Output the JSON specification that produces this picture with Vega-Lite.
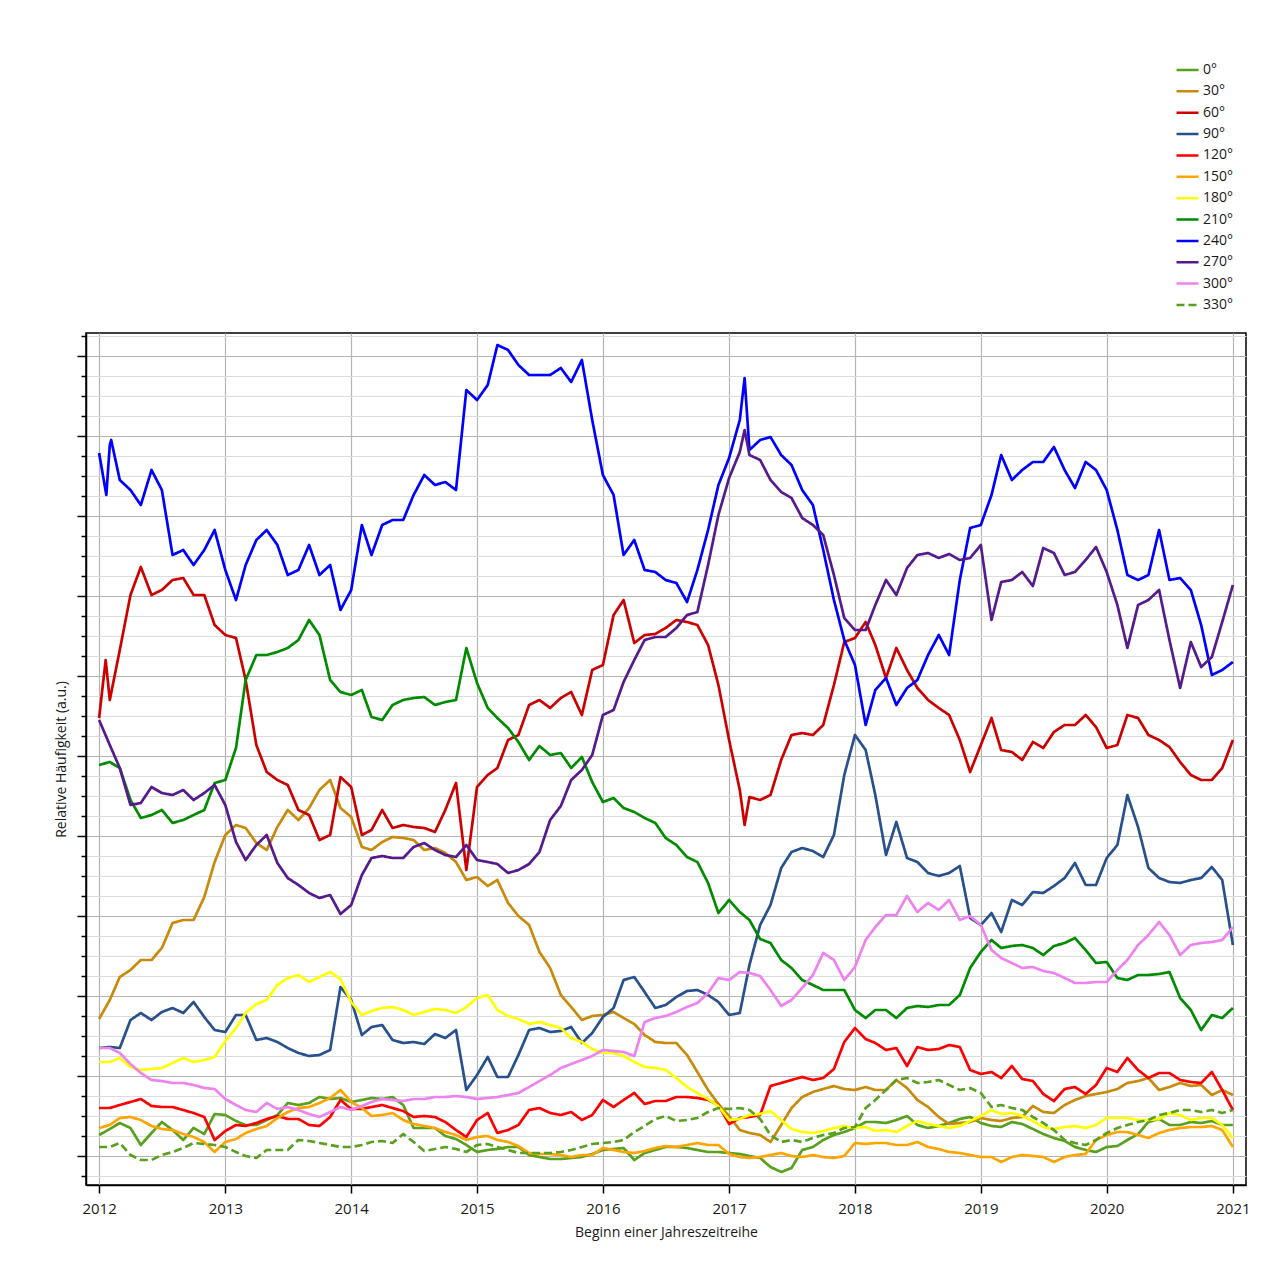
{
"$schema":"https://vega.github.io/schema/vega-lite/v6.json",
"width":1160,"height":852,
"autosize":"none",
"padding":{"left":86,"top":333,"right":39,"bottom":96},
"background":"white",
"config":{"font":"Open Sans","view":{"stroke":"black","strokeWidth":1.5}},
"datasets":{"dirs":[
{"s":"0°","d":"2012-01","v":21},{"s":"0°","d":"2012-02","v":27},{"s":"0°","d":"2012-03","v":33},{"s":"0°","d":"2012-04","v":28},{"s":"0°","d":"2012-05","v":11},{"s":"0°","d":"2012-06","v":23},{"s":"0°","d":"2012-07","v":34},{"s":"0°","d":"2012-08","v":26},{"s":"0°","d":"2012-09","v":16},{"s":"0°","d":"2012-10","v":28},{"s":"0°","d":"2012-11","v":22},{"s":"0°","d":"2012-12","v":42},
{"s":"0°","d":"2013-01","v":41},{"s":"0°","d":"2013-02","v":35},{"s":"0°","d":"2013-03","v":31},{"s":"0°","d":"2013-04","v":31},{"s":"0°","d":"2013-05","v":36},{"s":"0°","d":"2013-06","v":41},{"s":"0°","d":"2013-07","v":53},{"s":"0°","d":"2013-08","v":51},{"s":"0°","d":"2013-09","v":53},{"s":"0°","d":"2013-10","v":59},{"s":"0°","d":"2013-11","v":57},{"s":"0°","d":"2013-12","v":58},
{"s":"0°","d":"2014-01","v":54},{"s":"0°","d":"2014-02","v":56},{"s":"0°","d":"2014-03","v":58},{"s":"0°","d":"2014-04","v":57},{"s":"0°","d":"2014-05","v":59},{"s":"0°","d":"2014-06","v":51},{"s":"0°","d":"2014-07","v":28},{"s":"0°","d":"2014-08","v":28},{"s":"0°","d":"2014-09","v":28},{"s":"0°","d":"2014-10","v":20},{"s":"0°","d":"2014-11","v":17},{"s":"0°","d":"2014-12","v":11},
{"s":"0°","d":"2015-01","v":4},{"s":"0°","d":"2015-02","v":6},{"s":"0°","d":"2015-03","v":7},{"s":"0°","d":"2015-04","v":9},{"s":"0°","d":"2015-05","v":9},{"s":"0°","d":"2015-06","v":1},{"s":"0°","d":"2015-07","v":-1},{"s":"0°","d":"2015-08","v":-3},{"s":"0°","d":"2015-09","v":-3},{"s":"0°","d":"2015-10","v":-2},{"s":"0°","d":"2015-11","v":-1},{"s":"0°","d":"2015-12","v":2},
{"s":"0°","d":"2016-01","v":6},{"s":"0°","d":"2016-02","v":7},{"s":"0°","d":"2016-03","v":8},{"s":"0°","d":"2016-04","v":-4},{"s":"0°","d":"2016-05","v":3},{"s":"0°","d":"2016-06","v":6},{"s":"0°","d":"2016-07","v":9},{"s":"0°","d":"2016-08","v":9},{"s":"0°","d":"2016-09","v":8},{"s":"0°","d":"2016-10","v":6},{"s":"0°","d":"2016-11","v":4},{"s":"0°","d":"2016-12","v":4},
{"s":"0°","d":"2017-01","v":3},{"s":"0°","d":"2017-02","v":2},{"s":"0°","d":"2017-03","v":0},{"s":"0°","d":"2017-04","v":-2},{"s":"0°","d":"2017-05","v":-11},{"s":"0°","d":"2017-06","v":-16},{"s":"0°","d":"2017-07","v":-12},{"s":"0°","d":"2017-08","v":6},{"s":"0°","d":"2017-09","v":9},{"s":"0°","d":"2017-10","v":16},{"s":"0°","d":"2017-11","v":21},{"s":"0°","d":"2017-12","v":24},
{"s":"0°","d":"2018-01","v":28},{"s":"0°","d":"2018-02","v":34},{"s":"0°","d":"2018-03","v":34},{"s":"0°","d":"2018-04","v":33},{"s":"0°","d":"2018-05","v":36},{"s":"0°","d":"2018-06","v":40},{"s":"0°","d":"2018-07","v":31},{"s":"0°","d":"2018-08","v":28},{"s":"0°","d":"2018-09","v":30},{"s":"0°","d":"2018-10","v":33},{"s":"0°","d":"2018-11","v":37},{"s":"0°","d":"2018-12","v":39},
{"s":"0°","d":"2019-01","v":33},{"s":"0°","d":"2019-02","v":30},{"s":"0°","d":"2019-03","v":29},{"s":"0°","d":"2019-04","v":34},{"s":"0°","d":"2019-05","v":32},{"s":"0°","d":"2019-06","v":27},{"s":"0°","d":"2019-07","v":22},{"s":"0°","d":"2019-08","v":18},{"s":"0°","d":"2019-09","v":15},{"s":"0°","d":"2019-10","v":9},{"s":"0°","d":"2019-11","v":6},{"s":"0°","d":"2019-12","v":4},
{"s":"0°","d":"2020-01","v":9},{"s":"0°","d":"2020-02","v":10},{"s":"0°","d":"2020-03","v":16},{"s":"0°","d":"2020-04","v":22},{"s":"0°","d":"2020-05","v":34},{"s":"0°","d":"2020-06","v":37},{"s":"0°","d":"2020-07","v":31},{"s":"0°","d":"2020-08","v":31},{"s":"0°","d":"2020-09","v":34},{"s":"0°","d":"2020-10","v":33},{"s":"0°","d":"2020-11","v":35},{"s":"0°","d":"2020-12","v":31},
{"s":"0°","d":"2021-01","v":31},
{"s":"30°","d":"2012-01","v":137},{"s":"30°","d":"2012-02","v":156},{"s":"30°","d":"2012-03","v":179},{"s":"30°","d":"2012-04","v":186},{"s":"30°","d":"2012-05","v":196},{"s":"30°","d":"2012-06","v":196},{"s":"30°","d":"2012-07","v":208},{"s":"30°","d":"2012-08","v":233},{"s":"30°","d":"2012-09","v":236},{"s":"30°","d":"2012-10","v":236},{"s":"30°","d":"2012-11","v":259},{"s":"30°","d":"2012-12","v":294},
{"s":"30°","d":"2013-01","v":321},{"s":"30°","d":"2013-02","v":331},{"s":"30°","d":"2013-03","v":328},{"s":"30°","d":"2013-04","v":313},{"s":"30°","d":"2013-05","v":306},{"s":"30°","d":"2013-06","v":329},{"s":"30°","d":"2013-07","v":346},{"s":"30°","d":"2013-08","v":336},{"s":"30°","d":"2013-09","v":348},{"s":"30°","d":"2013-10","v":366},{"s":"30°","d":"2013-11","v":376},{"s":"30°","d":"2013-12","v":348},
{"s":"30°","d":"2014-01","v":339},{"s":"30°","d":"2014-02","v":309},{"s":"30°","d":"2014-03","v":306},{"s":"30°","d":"2014-04","v":314},{"s":"30°","d":"2014-05","v":319},{"s":"30°","d":"2014-06","v":318},{"s":"30°","d":"2014-07","v":316},{"s":"30°","d":"2014-08","v":306},{"s":"30°","d":"2014-09","v":308},{"s":"30°","d":"2014-10","v":303},{"s":"30°","d":"2014-11","v":294},{"s":"30°","d":"2014-12","v":276},
{"s":"30°","d":"2015-01","v":279},{"s":"30°","d":"2015-02","v":270},{"s":"30°","d":"2015-03","v":276},{"s":"30°","d":"2015-04","v":253},{"s":"30°","d":"2015-05","v":240},{"s":"30°","d":"2015-06","v":231},{"s":"30°","d":"2015-07","v":204},{"s":"30°","d":"2015-08","v":188},{"s":"30°","d":"2015-09","v":161},{"s":"30°","d":"2015-10","v":149},{"s":"30°","d":"2015-11","v":136},{"s":"30°","d":"2015-12","v":140},
{"s":"30°","d":"2016-01","v":141},{"s":"30°","d":"2016-02","v":144},{"s":"30°","d":"2016-03","v":138},{"s":"30°","d":"2016-04","v":132},{"s":"30°","d":"2016-05","v":121},{"s":"30°","d":"2016-06","v":114},{"s":"30°","d":"2016-07","v":113},{"s":"30°","d":"2016-08","v":113},{"s":"30°","d":"2016-09","v":101},{"s":"30°","d":"2016-10","v":84},{"s":"30°","d":"2016-11","v":66},{"s":"30°","d":"2016-12","v":52},
{"s":"30°","d":"2017-01","v":40},{"s":"30°","d":"2017-02","v":26},{"s":"30°","d":"2017-03","v":23},{"s":"30°","d":"2017-04","v":21},{"s":"30°","d":"2017-05","v":14},{"s":"30°","d":"2017-06","v":31},{"s":"30°","d":"2017-07","v":48},{"s":"30°","d":"2017-08","v":59},{"s":"30°","d":"2017-09","v":64},{"s":"30°","d":"2017-10","v":67},{"s":"30°","d":"2017-11","v":70},{"s":"30°","d":"2017-12","v":67},
{"s":"30°","d":"2018-01","v":66},{"s":"30°","d":"2018-02","v":69},{"s":"30°","d":"2018-03","v":66},{"s":"30°","d":"2018-04","v":66},{"s":"30°","d":"2018-05","v":76},{"s":"30°","d":"2018-06","v":68},{"s":"30°","d":"2018-07","v":56},{"s":"30°","d":"2018-08","v":49},{"s":"30°","d":"2018-09","v":39},{"s":"30°","d":"2018-10","v":32},{"s":"30°","d":"2018-11","v":33},{"s":"30°","d":"2018-12","v":34},
{"s":"30°","d":"2019-01","v":38},{"s":"30°","d":"2019-02","v":36},{"s":"30°","d":"2019-03","v":35},{"s":"30°","d":"2019-04","v":38},{"s":"30°","d":"2019-05","v":39},{"s":"30°","d":"2019-06","v":50},{"s":"30°","d":"2019-07","v":44},{"s":"30°","d":"2019-08","v":43},{"s":"30°","d":"2019-09","v":51},{"s":"30°","d":"2019-10","v":56},{"s":"30°","d":"2019-11","v":60},{"s":"30°","d":"2019-12","v":62},
{"s":"30°","d":"2020-01","v":64},{"s":"30°","d":"2020-02","v":67},{"s":"30°","d":"2020-03","v":73},{"s":"30°","d":"2020-04","v":75},{"s":"30°","d":"2020-05","v":78},{"s":"30°","d":"2020-06","v":66},{"s":"30°","d":"2020-07","v":69},{"s":"30°","d":"2020-08","v":73},{"s":"30°","d":"2020-09","v":70},{"s":"30°","d":"2020-10","v":71},{"s":"30°","d":"2020-11","v":61},{"s":"30°","d":"2020-12","v":66},
{"s":"30°","d":"2021-01","v":61},
{"s":"60°","d":"2012-01","v":438},{"s":"60°","d":"2012-01-20","v":496},{"s":"60°","d":"2012-02","v":456},{"s":"60°","d":"2012-03","v":506},{"s":"60°","d":"2012-04","v":561},{"s":"60°","d":"2012-05","v":589},{"s":"60°","d":"2012-06","v":561},{"s":"60°","d":"2012-07","v":566},{"s":"60°","d":"2012-08","v":576},{"s":"60°","d":"2012-09","v":578},{"s":"60°","d":"2012-10","v":561},{"s":"60°","d":"2012-11","v":561},{"s":"60°","d":"2012-12","v":531},
{"s":"60°","d":"2013-01","v":521},{"s":"60°","d":"2013-02","v":518},{"s":"60°","d":"2013-03","v":476},{"s":"60°","d":"2013-04","v":411},{"s":"60°","d":"2013-05","v":384},{"s":"60°","d":"2013-06","v":376},{"s":"60°","d":"2013-07","v":371},{"s":"60°","d":"2013-08","v":346},{"s":"60°","d":"2013-09","v":341},{"s":"60°","d":"2013-10","v":316},{"s":"60°","d":"2013-11","v":321},{"s":"60°","d":"2013-12","v":379},
{"s":"60°","d":"2014-01","v":369},{"s":"60°","d":"2014-02","v":321},{"s":"60°","d":"2014-03","v":326},{"s":"60°","d":"2014-04","v":346},{"s":"60°","d":"2014-05","v":328},{"s":"60°","d":"2014-06","v":331},{"s":"60°","d":"2014-07","v":329},{"s":"60°","d":"2014-08","v":328},{"s":"60°","d":"2014-09","v":324},{"s":"60°","d":"2014-10","v":346},{"s":"60°","d":"2014-11","v":373},{"s":"60°","d":"2014-12","v":286},
{"s":"60°","d":"2015-01","v":369},{"s":"60°","d":"2015-02","v":381},{"s":"60°","d":"2015-03","v":388},{"s":"60°","d":"2015-04","v":416},{"s":"60°","d":"2015-05","v":421},{"s":"60°","d":"2015-06","v":451},{"s":"60°","d":"2015-07","v":456},{"s":"60°","d":"2015-08","v":448},{"s":"60°","d":"2015-09","v":458},{"s":"60°","d":"2015-10","v":464},{"s":"60°","d":"2015-11","v":441},{"s":"60°","d":"2015-12","v":486},
{"s":"60°","d":"2016-01","v":491},{"s":"60°","d":"2016-02","v":541},{"s":"60°","d":"2016-03","v":556},{"s":"60°","d":"2016-04","v":513},{"s":"60°","d":"2016-05","v":521},{"s":"60°","d":"2016-06","v":522},{"s":"60°","d":"2016-07","v":528},{"s":"60°","d":"2016-08","v":536},{"s":"60°","d":"2016-09","v":534},{"s":"60°","d":"2016-10","v":531},{"s":"60°","d":"2016-11","v":511},{"s":"60°","d":"2016-12","v":471},
{"s":"60°","d":"2017-01","v":416},{"s":"60°","d":"2017-02","v":366},{"s":"60°","d":"2017-02-15","v":331},{"s":"60°","d":"2017-03","v":359},{"s":"60°","d":"2017-04","v":356},{"s":"60°","d":"2017-05","v":361},{"s":"60°","d":"2017-06","v":396},{"s":"60°","d":"2017-07","v":421},{"s":"60°","d":"2017-08","v":423},{"s":"60°","d":"2017-09","v":421},{"s":"60°","d":"2017-10","v":431},{"s":"60°","d":"2017-11","v":471},{"s":"60°","d":"2017-12","v":514},
{"s":"60°","d":"2018-01","v":518},{"s":"60°","d":"2018-02","v":534},{"s":"60°","d":"2018-03","v":511},{"s":"60°","d":"2018-04","v":478},{"s":"60°","d":"2018-05","v":508},{"s":"60°","d":"2018-06","v":486},{"s":"60°","d":"2018-07","v":468},{"s":"60°","d":"2018-08","v":456},{"s":"60°","d":"2018-09","v":448},{"s":"60°","d":"2018-10","v":441},{"s":"60°","d":"2018-11","v":416},{"s":"60°","d":"2018-12","v":384},
{"s":"60°","d":"2019-01","v":411},{"s":"60°","d":"2019-02","v":438},{"s":"60°","d":"2019-03","v":406},{"s":"60°","d":"2019-04","v":404},{"s":"60°","d":"2019-05","v":396},{"s":"60°","d":"2019-06","v":414},{"s":"60°","d":"2019-07","v":408},{"s":"60°","d":"2019-08","v":424},{"s":"60°","d":"2019-09","v":431},{"s":"60°","d":"2019-10","v":431},{"s":"60°","d":"2019-11","v":441},{"s":"60°","d":"2019-12","v":429},
{"s":"60°","d":"2020-01","v":408},{"s":"60°","d":"2020-02","v":411},{"s":"60°","d":"2020-03","v":441},{"s":"60°","d":"2020-04","v":438},{"s":"60°","d":"2020-05","v":421},{"s":"60°","d":"2020-06","v":416},{"s":"60°","d":"2020-07","v":409},{"s":"60°","d":"2020-08","v":394},{"s":"60°","d":"2020-09","v":381},{"s":"60°","d":"2020-10","v":376},{"s":"60°","d":"2020-11","v":376},{"s":"60°","d":"2020-12","v":388},
{"s":"60°","d":"2021-01","v":416},
{"s":"90°","d":"2012-01","v":108},{"s":"90°","d":"2012-02","v":109},{"s":"90°","d":"2012-03","v":108},{"s":"90°","d":"2012-04","v":136},{"s":"90°","d":"2012-05","v":143},{"s":"90°","d":"2012-06","v":136},{"s":"90°","d":"2012-07","v":144},{"s":"90°","d":"2012-08","v":148},{"s":"90°","d":"2012-09","v":143},{"s":"90°","d":"2012-10","v":154},{"s":"90°","d":"2012-11","v":139},{"s":"90°","d":"2012-12","v":126},
{"s":"90°","d":"2013-01","v":124},{"s":"90°","d":"2013-02","v":141},{"s":"90°","d":"2013-03","v":141},{"s":"90°","d":"2013-04","v":116},{"s":"90°","d":"2013-05","v":118},{"s":"90°","d":"2013-06","v":114},{"s":"90°","d":"2013-07","v":108},{"s":"90°","d":"2013-08","v":103},{"s":"90°","d":"2013-09","v":100},{"s":"90°","d":"2013-10","v":101},{"s":"90°","d":"2013-11","v":106},{"s":"90°","d":"2013-12","v":169},
{"s":"90°","d":"2014-01","v":156},{"s":"90°","d":"2014-02","v":121},{"s":"90°","d":"2014-03","v":129},{"s":"90°","d":"2014-04","v":131},{"s":"90°","d":"2014-05","v":116},{"s":"90°","d":"2014-06","v":113},{"s":"90°","d":"2014-07","v":114},{"s":"90°","d":"2014-08","v":112},{"s":"90°","d":"2014-09","v":122},{"s":"90°","d":"2014-10","v":118},{"s":"90°","d":"2014-11","v":126},{"s":"90°","d":"2014-12","v":66},
{"s":"90°","d":"2015-01","v":81},{"s":"90°","d":"2015-02","v":99},{"s":"90°","d":"2015-03","v":79},{"s":"90°","d":"2015-04","v":79},{"s":"90°","d":"2015-05","v":101},{"s":"90°","d":"2015-06","v":126},{"s":"90°","d":"2015-07","v":128},{"s":"90°","d":"2015-08","v":124},{"s":"90°","d":"2015-09","v":125},{"s":"90°","d":"2015-10","v":129},{"s":"90°","d":"2015-11","v":113},{"s":"90°","d":"2015-12","v":123},
{"s":"90°","d":"2016-01","v":139},{"s":"90°","d":"2016-02","v":148},{"s":"90°","d":"2016-03","v":176},{"s":"90°","d":"2016-04","v":179},{"s":"90°","d":"2016-05","v":164},{"s":"90°","d":"2016-06","v":148},{"s":"90°","d":"2016-07","v":151},{"s":"90°","d":"2016-08","v":159},{"s":"90°","d":"2016-09","v":165},{"s":"90°","d":"2016-10","v":166},{"s":"90°","d":"2016-11","v":161},{"s":"90°","d":"2016-12","v":154},
{"s":"90°","d":"2017-01","v":141},{"s":"90°","d":"2017-02","v":143},{"s":"90°","d":"2017-03","v":191},{"s":"90°","d":"2017-04","v":231},{"s":"90°","d":"2017-05","v":251},{"s":"90°","d":"2017-06","v":288},{"s":"90°","d":"2017-07","v":304},{"s":"90°","d":"2017-08","v":308},{"s":"90°","d":"2017-09","v":305},{"s":"90°","d":"2017-10","v":299},{"s":"90°","d":"2017-11","v":321},{"s":"90°","d":"2017-12","v":381},
{"s":"90°","d":"2018-01","v":421},{"s":"90°","d":"2018-02","v":406},{"s":"90°","d":"2018-03","v":361},{"s":"90°","d":"2018-04","v":301},{"s":"90°","d":"2018-05","v":334},{"s":"90°","d":"2018-06","v":298},{"s":"90°","d":"2018-07","v":294},{"s":"90°","d":"2018-08","v":283},{"s":"90°","d":"2018-09","v":280},{"s":"90°","d":"2018-10","v":283},{"s":"90°","d":"2018-11","v":290},{"s":"90°","d":"2018-12","v":238},
{"s":"90°","d":"2019-01","v":231},{"s":"90°","d":"2019-02","v":243},{"s":"90°","d":"2019-03","v":224},{"s":"90°","d":"2019-04","v":256},{"s":"90°","d":"2019-05","v":251},{"s":"90°","d":"2019-06","v":264},{"s":"90°","d":"2019-07","v":263},{"s":"90°","d":"2019-08","v":270},{"s":"90°","d":"2019-09","v":278},{"s":"90°","d":"2019-10","v":293},{"s":"90°","d":"2019-11","v":271},{"s":"90°","d":"2019-12","v":271},
{"s":"90°","d":"2020-01","v":298},{"s":"90°","d":"2020-02","v":311},{"s":"90°","d":"2020-03","v":361},{"s":"90°","d":"2020-04","v":329},{"s":"90°","d":"2020-05","v":288},{"s":"90°","d":"2020-06","v":278},{"s":"90°","d":"2020-07","v":274},{"s":"90°","d":"2020-08","v":273},{"s":"90°","d":"2020-09","v":276},{"s":"90°","d":"2020-10","v":278},{"s":"90°","d":"2020-11","v":289},{"s":"90°","d":"2020-12","v":276},
{"s":"90°","d":"2021-01","v":211},
{"s":"120°","d":"2012-01","v":48},{"s":"120°","d":"2012-02","v":48},{"s":"120°","d":"2012-03","v":51},{"s":"120°","d":"2012-04","v":54},{"s":"120°","d":"2012-05","v":57},{"s":"120°","d":"2012-06","v":50},{"s":"120°","d":"2012-07","v":49},{"s":"120°","d":"2012-08","v":49},{"s":"120°","d":"2012-09","v":46},{"s":"120°","d":"2012-10","v":43},{"s":"120°","d":"2012-11","v":39},{"s":"120°","d":"2012-12","v":16},
{"s":"120°","d":"2013-01","v":25},{"s":"120°","d":"2013-02","v":31},{"s":"120°","d":"2013-03","v":30},{"s":"120°","d":"2013-04","v":33},{"s":"120°","d":"2013-05","v":37},{"s":"120°","d":"2013-06","v":40},{"s":"120°","d":"2013-07","v":37},{"s":"120°","d":"2013-08","v":37},{"s":"120°","d":"2013-09","v":31},{"s":"120°","d":"2013-10","v":30},{"s":"120°","d":"2013-11","v":39},{"s":"120°","d":"2013-12","v":56},
{"s":"120°","d":"2014-01","v":47},{"s":"120°","d":"2014-02","v":47},{"s":"120°","d":"2014-03","v":49},{"s":"120°","d":"2014-04","v":51},{"s":"120°","d":"2014-05","v":48},{"s":"120°","d":"2014-06","v":45},{"s":"120°","d":"2014-07","v":39},{"s":"120°","d":"2014-08","v":40},{"s":"120°","d":"2014-09","v":39},{"s":"120°","d":"2014-10","v":34},{"s":"120°","d":"2014-11","v":26},{"s":"120°","d":"2014-12","v":19},
{"s":"120°","d":"2015-01","v":36},{"s":"120°","d":"2015-02","v":43},{"s":"120°","d":"2015-03","v":23},{"s":"120°","d":"2015-04","v":26},{"s":"120°","d":"2015-05","v":31},{"s":"120°","d":"2015-06","v":46},{"s":"120°","d":"2015-07","v":48},{"s":"120°","d":"2015-08","v":43},{"s":"120°","d":"2015-09","v":41},{"s":"120°","d":"2015-10","v":44},{"s":"120°","d":"2015-11","v":36},{"s":"120°","d":"2015-12","v":41},
{"s":"120°","d":"2016-01","v":56},{"s":"120°","d":"2016-02","v":49},{"s":"120°","d":"2016-03","v":56},{"s":"120°","d":"2016-04","v":63},{"s":"120°","d":"2016-05","v":52},{"s":"120°","d":"2016-06","v":55},{"s":"120°","d":"2016-07","v":55},{"s":"120°","d":"2016-08","v":59},{"s":"120°","d":"2016-09","v":59},{"s":"120°","d":"2016-10","v":58},{"s":"120°","d":"2016-11","v":56},{"s":"120°","d":"2016-12","v":51},
{"s":"120°","d":"2017-01","v":32},{"s":"120°","d":"2017-02","v":38},{"s":"120°","d":"2017-03","v":39},{"s":"120°","d":"2017-04","v":41},{"s":"120°","d":"2017-05","v":70},{"s":"120°","d":"2017-06","v":73},{"s":"120°","d":"2017-07","v":76},{"s":"120°","d":"2017-08","v":79},{"s":"120°","d":"2017-09","v":76},{"s":"120°","d":"2017-10","v":78},{"s":"120°","d":"2017-11","v":87},{"s":"120°","d":"2017-12","v":114},
{"s":"120°","d":"2018-01","v":128},{"s":"120°","d":"2018-02","v":117},{"s":"120°","d":"2018-03","v":113},{"s":"120°","d":"2018-04","v":106},{"s":"120°","d":"2018-05","v":108},{"s":"120°","d":"2018-06","v":90},{"s":"120°","d":"2018-07","v":109},{"s":"120°","d":"2018-08","v":106},{"s":"120°","d":"2018-09","v":107},{"s":"120°","d":"2018-10","v":111},{"s":"120°","d":"2018-11","v":109},{"s":"120°","d":"2018-12","v":86},
{"s":"120°","d":"2019-01","v":82},{"s":"120°","d":"2019-02","v":84},{"s":"120°","d":"2019-03","v":78},{"s":"120°","d":"2019-04","v":90},{"s":"120°","d":"2019-05","v":77},{"s":"120°","d":"2019-06","v":75},{"s":"120°","d":"2019-07","v":62},{"s":"120°","d":"2019-08","v":55},{"s":"120°","d":"2019-09","v":67},{"s":"120°","d":"2019-10","v":69},{"s":"120°","d":"2019-11","v":62},{"s":"120°","d":"2019-12","v":71},
{"s":"120°","d":"2020-01","v":88},{"s":"120°","d":"2020-02","v":84},{"s":"120°","d":"2020-03","v":98},{"s":"120°","d":"2020-04","v":86},{"s":"120°","d":"2020-05","v":78},{"s":"120°","d":"2020-06","v":83},{"s":"120°","d":"2020-07","v":83},{"s":"120°","d":"2020-08","v":76},{"s":"120°","d":"2020-09","v":74},{"s":"120°","d":"2020-10","v":73},{"s":"120°","d":"2020-11","v":84},{"s":"120°","d":"2020-12","v":66},
{"s":"120°","d":"2021-01","v":46},
{"s":"150°","d":"2012-01","v":28},{"s":"150°","d":"2012-02","v":31},{"s":"150°","d":"2012-03","v":38},{"s":"150°","d":"2012-04","v":39},{"s":"150°","d":"2012-05","v":36},{"s":"150°","d":"2012-06","v":30},{"s":"150°","d":"2012-07","v":27},{"s":"150°","d":"2012-08","v":26},{"s":"150°","d":"2012-09","v":22},{"s":"150°","d":"2012-10","v":19},{"s":"150°","d":"2012-11","v":14},{"s":"150°","d":"2012-12","v":4},
{"s":"150°","d":"2013-01","v":14},{"s":"150°","d":"2013-02","v":17},{"s":"150°","d":"2013-03","v":23},{"s":"150°","d":"2013-04","v":27},{"s":"150°","d":"2013-05","v":30},{"s":"150°","d":"2013-06","v":38},{"s":"150°","d":"2013-07","v":44},{"s":"150°","d":"2013-08","v":48},{"s":"150°","d":"2013-09","v":49},{"s":"150°","d":"2013-10","v":53},{"s":"150°","d":"2013-11","v":58},{"s":"150°","d":"2013-12","v":66},
{"s":"150°","d":"2014-01","v":54},{"s":"150°","d":"2014-02","v":48},{"s":"150°","d":"2014-03","v":40},{"s":"150°","d":"2014-04","v":41},{"s":"150°","d":"2014-05","v":43},{"s":"150°","d":"2014-06","v":36},{"s":"150°","d":"2014-07","v":32},{"s":"150°","d":"2014-08","v":30},{"s":"150°","d":"2014-09","v":28},{"s":"150°","d":"2014-10","v":24},{"s":"150°","d":"2014-11","v":21},{"s":"150°","d":"2014-12","v":16},
{"s":"150°","d":"2015-01","v":19},{"s":"150°","d":"2015-02","v":20},{"s":"150°","d":"2015-03","v":16},{"s":"150°","d":"2015-04","v":14},{"s":"150°","d":"2015-05","v":10},{"s":"150°","d":"2015-06","v":3},{"s":"150°","d":"2015-07","v":2},{"s":"150°","d":"2015-08","v":2},{"s":"150°","d":"2015-09","v":1},{"s":"150°","d":"2015-10","v":-1},{"s":"150°","d":"2015-11","v":1},{"s":"150°","d":"2015-12","v":1},
{"s":"150°","d":"2016-01","v":8},{"s":"150°","d":"2016-02","v":6},{"s":"150°","d":"2016-03","v":4},{"s":"150°","d":"2016-04","v":3},{"s":"150°","d":"2016-05","v":5},{"s":"150°","d":"2016-06","v":8},{"s":"150°","d":"2016-07","v":10},{"s":"150°","d":"2016-08","v":9},{"s":"150°","d":"2016-09","v":11},{"s":"150°","d":"2016-10","v":13},{"s":"150°","d":"2016-11","v":11},{"s":"150°","d":"2016-12","v":11},
{"s":"150°","d":"2017-01","v":2},{"s":"150°","d":"2017-02","v":-1},{"s":"150°","d":"2017-03","v":-2},{"s":"150°","d":"2017-04","v":-1},{"s":"150°","d":"2017-05","v":1},{"s":"150°","d":"2017-06","v":3},{"s":"150°","d":"2017-07","v":0},{"s":"150°","d":"2017-08","v":-1},{"s":"150°","d":"2017-09","v":1},{"s":"150°","d":"2017-10","v":-1},{"s":"150°","d":"2017-11","v":-2},{"s":"150°","d":"2017-12","v":0},
{"s":"150°","d":"2018-01","v":13},{"s":"150°","d":"2018-02","v":12},{"s":"150°","d":"2018-03","v":13},{"s":"150°","d":"2018-04","v":13},{"s":"150°","d":"2018-05","v":11},{"s":"150°","d":"2018-06","v":11},{"s":"150°","d":"2018-07","v":14},{"s":"150°","d":"2018-08","v":9},{"s":"150°","d":"2018-09","v":7},{"s":"150°","d":"2018-10","v":4},{"s":"150°","d":"2018-11","v":3},{"s":"150°","d":"2018-12","v":1},
{"s":"150°","d":"2019-01","v":-1},{"s":"150°","d":"2019-02","v":-1},{"s":"150°","d":"2019-03","v":-6},{"s":"150°","d":"2019-04","v":-1},{"s":"150°","d":"2019-05","v":1},{"s":"150°","d":"2019-06","v":0},{"s":"150°","d":"2019-07","v":-1},{"s":"150°","d":"2019-08","v":-6},{"s":"150°","d":"2019-09","v":-1},{"s":"150°","d":"2019-10","v":1},{"s":"150°","d":"2019-11","v":2},{"s":"150°","d":"2019-12","v":16},
{"s":"150°","d":"2020-01","v":21},{"s":"150°","d":"2020-02","v":24},{"s":"150°","d":"2020-03","v":24},{"s":"150°","d":"2020-04","v":21},{"s":"150°","d":"2020-05","v":18},{"s":"150°","d":"2020-06","v":23},{"s":"150°","d":"2020-07","v":26},{"s":"150°","d":"2020-08","v":28},{"s":"150°","d":"2020-09","v":29},{"s":"150°","d":"2020-10","v":29},{"s":"150°","d":"2020-11","v":30},{"s":"150°","d":"2020-12","v":26},
{"s":"150°","d":"2021-01","v":9},
{"s":"180°","d":"2012-01","v":94},{"s":"180°","d":"2012-02","v":94},{"s":"180°","d":"2012-03","v":98},{"s":"180°","d":"2012-04","v":89},{"s":"180°","d":"2012-05","v":86},{"s":"180°","d":"2012-06","v":87},{"s":"180°","d":"2012-07","v":88},{"s":"180°","d":"2012-08","v":93},{"s":"180°","d":"2012-09","v":98},{"s":"180°","d":"2012-10","v":94},{"s":"180°","d":"2012-11","v":96},{"s":"180°","d":"2012-12","v":99},
{"s":"180°","d":"2013-01","v":115},{"s":"180°","d":"2013-02","v":128},{"s":"180°","d":"2013-03","v":143},{"s":"180°","d":"2013-04","v":152},{"s":"180°","d":"2013-05","v":156},{"s":"180°","d":"2013-06","v":171},{"s":"180°","d":"2013-07","v":178},{"s":"180°","d":"2013-08","v":181},{"s":"180°","d":"2013-09","v":174},{"s":"180°","d":"2013-10","v":179},{"s":"180°","d":"2013-11","v":184},{"s":"180°","d":"2013-12","v":177},
{"s":"180°","d":"2014-01","v":154},{"s":"180°","d":"2014-02","v":141},{"s":"180°","d":"2014-03","v":145},{"s":"180°","d":"2014-04","v":148},{"s":"180°","d":"2014-05","v":149},{"s":"180°","d":"2014-06","v":146},{"s":"180°","d":"2014-07","v":141},{"s":"180°","d":"2014-08","v":144},{"s":"180°","d":"2014-09","v":147},{"s":"180°","d":"2014-10","v":146},{"s":"180°","d":"2014-11","v":143},{"s":"180°","d":"2014-12","v":149},
{"s":"180°","d":"2015-01","v":158},{"s":"180°","d":"2015-02","v":161},{"s":"180°","d":"2015-03","v":146},{"s":"180°","d":"2015-04","v":140},{"s":"180°","d":"2015-05","v":137},{"s":"180°","d":"2015-06","v":132},{"s":"180°","d":"2015-07","v":134},{"s":"180°","d":"2015-08","v":131},{"s":"180°","d":"2015-09","v":128},{"s":"180°","d":"2015-10","v":118},{"s":"180°","d":"2015-11","v":114},{"s":"180°","d":"2015-12","v":107},
{"s":"180°","d":"2016-01","v":103},{"s":"180°","d":"2016-02","v":103},{"s":"180°","d":"2016-03","v":100},{"s":"180°","d":"2016-04","v":94},{"s":"180°","d":"2016-05","v":89},{"s":"180°","d":"2016-06","v":88},{"s":"180°","d":"2016-07","v":86},{"s":"180°","d":"2016-08","v":78},{"s":"180°","d":"2016-09","v":69},{"s":"180°","d":"2016-10","v":63},{"s":"180°","d":"2016-11","v":57},{"s":"180°","d":"2016-12","v":50},
{"s":"180°","d":"2017-01","v":36},{"s":"180°","d":"2017-02","v":37},{"s":"180°","d":"2017-03","v":41},{"s":"180°","d":"2017-04","v":42},{"s":"180°","d":"2017-05","v":45},{"s":"180°","d":"2017-06","v":36},{"s":"180°","d":"2017-07","v":27},{"s":"180°","d":"2017-08","v":24},{"s":"180°","d":"2017-09","v":23},{"s":"180°","d":"2017-10","v":25},{"s":"180°","d":"2017-11","v":28},{"s":"180°","d":"2017-12","v":30},
{"s":"180°","d":"2018-01","v":28},{"s":"180°","d":"2018-02","v":29},{"s":"180°","d":"2018-03","v":25},{"s":"180°","d":"2018-04","v":26},{"s":"180°","d":"2018-05","v":24},{"s":"180°","d":"2018-06","v":30},{"s":"180°","d":"2018-07","v":35},{"s":"180°","d":"2018-08","v":32},{"s":"180°","d":"2018-09","v":30},{"s":"180°","d":"2018-10","v":28},{"s":"180°","d":"2018-11","v":30},{"s":"180°","d":"2018-12","v":35},
{"s":"180°","d":"2019-01","v":40},{"s":"180°","d":"2019-02","v":46},{"s":"180°","d":"2019-03","v":42},{"s":"180°","d":"2019-04","v":43},{"s":"180°","d":"2019-05","v":40},{"s":"180°","d":"2019-06","v":35},{"s":"180°","d":"2019-07","v":29},{"s":"180°","d":"2019-08","v":27},{"s":"180°","d":"2019-09","v":29},{"s":"180°","d":"2019-10","v":30},{"s":"180°","d":"2019-11","v":28},{"s":"180°","d":"2019-12","v":31},
{"s":"180°","d":"2020-01","v":38},{"s":"180°","d":"2020-02","v":38},{"s":"180°","d":"2020-03","v":38},{"s":"180°","d":"2020-04","v":36},{"s":"180°","d":"2020-05","v":36},{"s":"180°","d":"2020-06","v":37},{"s":"180°","d":"2020-07","v":43},{"s":"180°","d":"2020-08","v":41},{"s":"180°","d":"2020-09","v":36},{"s":"180°","d":"2020-10","v":38},{"s":"180°","d":"2020-11","v":38},{"s":"180°","d":"2020-12","v":31},
{"s":"180°","d":"2021-01","v":18},
{"s":"210°","d":"2012-01","v":391},{"s":"210°","d":"2012-02","v":394},{"s":"210°","d":"2012-03","v":388},{"s":"210°","d":"2012-04","v":356},{"s":"210°","d":"2012-05","v":338},{"s":"210°","d":"2012-06","v":341},{"s":"210°","d":"2012-07","v":346},{"s":"210°","d":"2012-08","v":333},{"s":"210°","d":"2012-09","v":336},{"s":"210°","d":"2012-10","v":341},{"s":"210°","d":"2012-11","v":346},{"s":"210°","d":"2012-12","v":373},
{"s":"210°","d":"2013-01","v":376},{"s":"210°","d":"2013-02","v":408},{"s":"210°","d":"2013-03","v":476},{"s":"210°","d":"2013-04","v":501},{"s":"210°","d":"2013-05","v":501},{"s":"210°","d":"2013-06","v":504},{"s":"210°","d":"2013-07","v":508},{"s":"210°","d":"2013-08","v":516},{"s":"210°","d":"2013-09","v":536},{"s":"210°","d":"2013-10","v":521},{"s":"210°","d":"2013-11","v":476},{"s":"210°","d":"2013-12","v":464},
{"s":"210°","d":"2014-01","v":461},{"s":"210°","d":"2014-02","v":466},{"s":"210°","d":"2014-03","v":439},{"s":"210°","d":"2014-04","v":436},{"s":"210°","d":"2014-05","v":451},{"s":"210°","d":"2014-06","v":456},{"s":"210°","d":"2014-07","v":458},{"s":"210°","d":"2014-08","v":459},{"s":"210°","d":"2014-09","v":451},{"s":"210°","d":"2014-10","v":454},{"s":"210°","d":"2014-11","v":456},{"s":"210°","d":"2014-12","v":508},
{"s":"210°","d":"2015-01","v":473},{"s":"210°","d":"2015-02","v":448},{"s":"210°","d":"2015-03","v":438},{"s":"210°","d":"2015-04","v":428},{"s":"210°","d":"2015-05","v":414},{"s":"210°","d":"2015-06","v":396},{"s":"210°","d":"2015-07","v":410},{"s":"210°","d":"2015-08","v":401},{"s":"210°","d":"2015-09","v":403},{"s":"210°","d":"2015-10","v":388},{"s":"210°","d":"2015-11","v":399},{"s":"210°","d":"2015-12","v":374},
{"s":"210°","d":"2016-01","v":354},{"s":"210°","d":"2016-02","v":358},{"s":"210°","d":"2016-03","v":348},{"s":"210°","d":"2016-04","v":344},{"s":"210°","d":"2016-05","v":338},{"s":"210°","d":"2016-06","v":333},{"s":"210°","d":"2016-07","v":318},{"s":"210°","d":"2016-08","v":311},{"s":"210°","d":"2016-09","v":299},{"s":"210°","d":"2016-10","v":294},{"s":"210°","d":"2016-11","v":273},{"s":"210°","d":"2016-12","v":243},
{"s":"210°","d":"2017-01","v":256},{"s":"210°","d":"2017-02","v":244},{"s":"210°","d":"2017-03","v":236},{"s":"210°","d":"2017-04","v":217},{"s":"210°","d":"2017-05","v":213},{"s":"210°","d":"2017-06","v":196},{"s":"210°","d":"2017-07","v":188},{"s":"210°","d":"2017-08","v":176},{"s":"210°","d":"2017-09","v":171},{"s":"210°","d":"2017-10","v":166},{"s":"210°","d":"2017-11","v":166},{"s":"210°","d":"2017-12","v":166},
{"s":"210°","d":"2018-01","v":146},{"s":"210°","d":"2018-02","v":138},{"s":"210°","d":"2018-03","v":146},{"s":"210°","d":"2018-04","v":146},{"s":"210°","d":"2018-05","v":138},{"s":"210°","d":"2018-06","v":148},{"s":"210°","d":"2018-07","v":150},{"s":"210°","d":"2018-08","v":149},{"s":"210°","d":"2018-09","v":151},{"s":"210°","d":"2018-10","v":151},{"s":"210°","d":"2018-11","v":161},{"s":"210°","d":"2018-12","v":188},
{"s":"210°","d":"2019-01","v":204},{"s":"210°","d":"2019-02","v":216},{"s":"210°","d":"2019-03","v":208},{"s":"210°","d":"2019-04","v":210},{"s":"210°","d":"2019-05","v":211},{"s":"210°","d":"2019-06","v":208},{"s":"210°","d":"2019-07","v":201},{"s":"210°","d":"2019-08","v":210},{"s":"210°","d":"2019-09","v":213},{"s":"210°","d":"2019-10","v":218},{"s":"210°","d":"2019-11","v":206},{"s":"210°","d":"2019-12","v":193},
{"s":"210°","d":"2020-01","v":194},{"s":"210°","d":"2020-02","v":178},{"s":"210°","d":"2020-03","v":176},{"s":"210°","d":"2020-04","v":181},{"s":"210°","d":"2020-05","v":181},{"s":"210°","d":"2020-06","v":182},{"s":"210°","d":"2020-07","v":184},{"s":"210°","d":"2020-08","v":158},{"s":"210°","d":"2020-09","v":146},{"s":"210°","d":"2020-10","v":126},{"s":"210°","d":"2020-11","v":141},{"s":"210°","d":"2020-12","v":138},
{"s":"210°","d":"2021-01","v":148},
{"s":"240°","d":"2012-01","v":703},{"s":"240°","d":"2012-01-22","v":661},{"s":"240°","d":"2012-02","v":711},{"s":"240°","d":"2012-02-05","v":716},{"s":"240°","d":"2012-03","v":676},{"s":"240°","d":"2012-04","v":666},{"s":"240°","d":"2012-05","v":651},{"s":"240°","d":"2012-06","v":686},{"s":"240°","d":"2012-07","v":666},{"s":"240°","d":"2012-08","v":601},{"s":"240°","d":"2012-09","v":606},{"s":"240°","d":"2012-10","v":591},{"s":"240°","d":"2012-11","v":606},{"s":"240°","d":"2012-12","v":626},
{"s":"240°","d":"2013-01","v":586},{"s":"240°","d":"2013-02","v":556},{"s":"240°","d":"2013-03","v":591},{"s":"240°","d":"2013-04","v":616},{"s":"240°","d":"2013-05","v":626},{"s":"240°","d":"2013-06","v":611},{"s":"240°","d":"2013-07","v":581},{"s":"240°","d":"2013-08","v":586},{"s":"240°","d":"2013-09","v":611},{"s":"240°","d":"2013-10","v":581},{"s":"240°","d":"2013-11","v":591},{"s":"240°","d":"2013-12","v":546},
{"s":"240°","d":"2014-01","v":566},{"s":"240°","d":"2014-02","v":631},{"s":"240°","d":"2014-03","v":601},{"s":"240°","d":"2014-04","v":631},{"s":"240°","d":"2014-05","v":636},{"s":"240°","d":"2014-06","v":636},{"s":"240°","d":"2014-07","v":661},{"s":"240°","d":"2014-08","v":681},{"s":"240°","d":"2014-09","v":671},{"s":"240°","d":"2014-10","v":674},{"s":"240°","d":"2014-11","v":666},{"s":"240°","d":"2014-12","v":766},
{"s":"240°","d":"2015-01","v":756},{"s":"240°","d":"2015-02","v":771},{"s":"240°","d":"2015-03","v":811},{"s":"240°","d":"2015-04","v":806},{"s":"240°","d":"2015-05","v":791},{"s":"240°","d":"2015-06","v":781},{"s":"240°","d":"2015-07","v":781},{"s":"240°","d":"2015-08","v":781},{"s":"240°","d":"2015-09","v":788},{"s":"240°","d":"2015-10","v":774},{"s":"240°","d":"2015-11","v":796},{"s":"240°","d":"2015-12","v":736},
{"s":"240°","d":"2016-01","v":681},{"s":"240°","d":"2016-02","v":661},{"s":"240°","d":"2016-03","v":601},{"s":"240°","d":"2016-04","v":616},{"s":"240°","d":"2016-05","v":586},{"s":"240°","d":"2016-06","v":584},{"s":"240°","d":"2016-07","v":576},{"s":"240°","d":"2016-08","v":573},{"s":"240°","d":"2016-09","v":554},{"s":"240°","d":"2016-10","v":586},{"s":"240°","d":"2016-11","v":626},{"s":"240°","d":"2016-12","v":671},
{"s":"240°","d":"2017-01","v":698},{"s":"240°","d":"2017-02","v":736},{"s":"240°","d":"2017-02-15","v":778},{"s":"240°","d":"2017-03","v":706},{"s":"240°","d":"2017-04","v":716},{"s":"240°","d":"2017-05","v":719},{"s":"240°","d":"2017-06","v":701},{"s":"240°","d":"2017-07","v":691},{"s":"240°","d":"2017-08","v":666},{"s":"240°","d":"2017-09","v":651},{"s":"240°","d":"2017-10","v":606},{"s":"240°","d":"2017-11","v":556},{"s":"240°","d":"2017-12","v":516},
{"s":"240°","d":"2018-01","v":491},{"s":"240°","d":"2018-02","v":431},{"s":"240°","d":"2018-03","v":466},{"s":"240°","d":"2018-04","v":478},{"s":"240°","d":"2018-05","v":451},{"s":"240°","d":"2018-06","v":468},{"s":"240°","d":"2018-07","v":476},{"s":"240°","d":"2018-08","v":501},{"s":"240°","d":"2018-09","v":521},{"s":"240°","d":"2018-10","v":501},{"s":"240°","d":"2018-11","v":576},{"s":"240°","d":"2018-12","v":628},
{"s":"240°","d":"2019-01","v":631},{"s":"240°","d":"2019-02","v":661},{"s":"240°","d":"2019-03","v":701},{"s":"240°","d":"2019-04","v":676},{"s":"240°","d":"2019-05","v":686},{"s":"240°","d":"2019-06","v":694},{"s":"240°","d":"2019-07","v":694},{"s":"240°","d":"2019-08","v":709},{"s":"240°","d":"2019-09","v":686},{"s":"240°","d":"2019-10","v":668},{"s":"240°","d":"2019-11","v":694},{"s":"240°","d":"2019-12","v":686},
{"s":"240°","d":"2020-01","v":666},{"s":"240°","d":"2020-02","v":626},{"s":"240°","d":"2020-03","v":581},{"s":"240°","d":"2020-04","v":576},{"s":"240°","d":"2020-05","v":581},{"s":"240°","d":"2020-06","v":626},{"s":"240°","d":"2020-07","v":576},{"s":"240°","d":"2020-08","v":578},{"s":"240°","d":"2020-09","v":566},{"s":"240°","d":"2020-10","v":531},{"s":"240°","d":"2020-11","v":481},{"s":"240°","d":"2020-12","v":486},
{"s":"240°","d":"2021-01","v":494},
{"s":"270°","d":"2012-01","v":436},{"s":"270°","d":"2012-02","v":411},{"s":"270°","d":"2012-03","v":388},{"s":"270°","d":"2012-04","v":351},{"s":"270°","d":"2012-05","v":353},{"s":"270°","d":"2012-06","v":369},{"s":"270°","d":"2012-07","v":363},{"s":"270°","d":"2012-08","v":361},{"s":"270°","d":"2012-09","v":366},{"s":"270°","d":"2012-10","v":356},{"s":"270°","d":"2012-11","v":363},{"s":"270°","d":"2012-12","v":371},
{"s":"270°","d":"2013-01","v":351},{"s":"270°","d":"2013-02","v":314},{"s":"270°","d":"2013-03","v":296},{"s":"270°","d":"2013-04","v":311},{"s":"270°","d":"2013-05","v":321},{"s":"270°","d":"2013-06","v":293},{"s":"270°","d":"2013-07","v":278},{"s":"270°","d":"2013-08","v":271},{"s":"270°","d":"2013-09","v":263},{"s":"270°","d":"2013-10","v":258},{"s":"270°","d":"2013-11","v":261},{"s":"270°","d":"2013-12","v":242},
{"s":"270°","d":"2014-01","v":251},{"s":"270°","d":"2014-02","v":281},{"s":"270°","d":"2014-03","v":298},{"s":"270°","d":"2014-04","v":300},{"s":"270°","d":"2014-05","v":298},{"s":"270°","d":"2014-06","v":298},{"s":"270°","d":"2014-07","v":309},{"s":"270°","d":"2014-08","v":313},{"s":"270°","d":"2014-09","v":306},{"s":"270°","d":"2014-10","v":301},{"s":"270°","d":"2014-11","v":299},{"s":"270°","d":"2014-12","v":311},
{"s":"270°","d":"2015-01","v":296},{"s":"270°","d":"2015-02","v":294},{"s":"270°","d":"2015-03","v":292},{"s":"270°","d":"2015-04","v":283},{"s":"270°","d":"2015-05","v":286},{"s":"270°","d":"2015-06","v":292},{"s":"270°","d":"2015-07","v":304},{"s":"270°","d":"2015-08","v":336},{"s":"270°","d":"2015-09","v":350},{"s":"270°","d":"2015-10","v":376},{"s":"270°","d":"2015-11","v":386},{"s":"270°","d":"2015-12","v":401},
{"s":"270°","d":"2016-01","v":441},{"s":"270°","d":"2016-02","v":446},{"s":"270°","d":"2016-03","v":474},{"s":"270°","d":"2016-04","v":496},{"s":"270°","d":"2016-05","v":516},{"s":"270°","d":"2016-06","v":519},{"s":"270°","d":"2016-07","v":519},{"s":"270°","d":"2016-08","v":528},{"s":"270°","d":"2016-09","v":541},{"s":"270°","d":"2016-10","v":544},{"s":"270°","d":"2016-11","v":591},{"s":"270°","d":"2016-12","v":641},
{"s":"270°","d":"2017-01","v":678},{"s":"270°","d":"2017-02","v":704},{"s":"270°","d":"2017-02-15","v":726},{"s":"270°","d":"2017-03","v":701},{"s":"270°","d":"2017-04","v":696},{"s":"270°","d":"2017-05","v":676},{"s":"270°","d":"2017-06","v":664},{"s":"270°","d":"2017-07","v":658},{"s":"270°","d":"2017-08","v":638},{"s":"270°","d":"2017-09","v":631},{"s":"270°","d":"2017-10","v":621},{"s":"270°","d":"2017-11","v":581},{"s":"270°","d":"2017-12","v":538},
{"s":"270°","d":"2018-01","v":526},{"s":"270°","d":"2018-02","v":526},{"s":"270°","d":"2018-03","v":551},{"s":"270°","d":"2018-04","v":576},{"s":"270°","d":"2018-05","v":561},{"s":"270°","d":"2018-06","v":588},{"s":"270°","d":"2018-07","v":601},{"s":"270°","d":"2018-08","v":603},{"s":"270°","d":"2018-09","v":598},{"s":"270°","d":"2018-10","v":602},{"s":"270°","d":"2018-11","v":596},{"s":"270°","d":"2018-12","v":598},
{"s":"270°","d":"2019-01","v":611},{"s":"270°","d":"2019-02","v":536},{"s":"270°","d":"2019-03","v":574},{"s":"270°","d":"2019-04","v":576},{"s":"270°","d":"2019-05","v":584},{"s":"270°","d":"2019-06","v":570},{"s":"270°","d":"2019-07","v":608},{"s":"270°","d":"2019-08","v":603},{"s":"270°","d":"2019-09","v":581},{"s":"270°","d":"2019-10","v":584},{"s":"270°","d":"2019-11","v":596},{"s":"270°","d":"2019-12","v":609},
{"s":"270°","d":"2020-01","v":584},{"s":"270°","d":"2020-02","v":551},{"s":"270°","d":"2020-03","v":508},{"s":"270°","d":"2020-04","v":551},{"s":"270°","d":"2020-05","v":556},{"s":"270°","d":"2020-06","v":566},{"s":"270°","d":"2020-07","v":516},{"s":"270°","d":"2020-08","v":468},{"s":"270°","d":"2020-09","v":514},{"s":"270°","d":"2020-10","v":489},{"s":"270°","d":"2020-11","v":499},{"s":"270°","d":"2020-12","v":534},
{"s":"270°","d":"2021-01","v":571},
{"s":"300°","d":"2012-01","v":108},{"s":"300°","d":"2012-02","v":108},{"s":"300°","d":"2012-03","v":103},{"s":"300°","d":"2012-04","v":92},{"s":"300°","d":"2012-05","v":83},{"s":"300°","d":"2012-06","v":76},{"s":"300°","d":"2012-07","v":75},{"s":"300°","d":"2012-08","v":73},{"s":"300°","d":"2012-09","v":73},{"s":"300°","d":"2012-10","v":71},{"s":"300°","d":"2012-11","v":68},{"s":"300°","d":"2012-12","v":67},
{"s":"300°","d":"2013-01","v":57},{"s":"300°","d":"2013-02","v":51},{"s":"300°","d":"2013-03","v":46},{"s":"300°","d":"2013-04","v":44},{"s":"300°","d":"2013-05","v":53},{"s":"300°","d":"2013-06","v":47},{"s":"300°","d":"2013-07","v":49},{"s":"300°","d":"2013-08","v":46},{"s":"300°","d":"2013-09","v":42},{"s":"300°","d":"2013-10","v":39},{"s":"300°","d":"2013-11","v":44},{"s":"300°","d":"2013-12","v":49},
{"s":"300°","d":"2014-01","v":46},{"s":"300°","d":"2014-02","v":50},{"s":"300°","d":"2014-03","v":54},{"s":"300°","d":"2014-04","v":57},{"s":"300°","d":"2014-05","v":56},{"s":"300°","d":"2014-06","v":55},{"s":"300°","d":"2014-07","v":57},{"s":"300°","d":"2014-08","v":57},{"s":"300°","d":"2014-09","v":59},{"s":"300°","d":"2014-10","v":59},{"s":"300°","d":"2014-11","v":60},{"s":"300°","d":"2014-12","v":59},
{"s":"300°","d":"2015-01","v":57},{"s":"300°","d":"2015-02","v":58},{"s":"300°","d":"2015-03","v":59},{"s":"300°","d":"2015-04","v":61},{"s":"300°","d":"2015-05","v":63},{"s":"300°","d":"2015-06","v":69},{"s":"300°","d":"2015-07","v":75},{"s":"300°","d":"2015-08","v":81},{"s":"300°","d":"2015-09","v":88},{"s":"300°","d":"2015-10","v":92},{"s":"300°","d":"2015-11","v":96},{"s":"300°","d":"2015-12","v":100},
{"s":"300°","d":"2016-01","v":106},{"s":"300°","d":"2016-02","v":105},{"s":"300°","d":"2016-03","v":104},{"s":"300°","d":"2016-04","v":100},{"s":"300°","d":"2016-05","v":134},{"s":"300°","d":"2016-06","v":138},{"s":"300°","d":"2016-07","v":140},{"s":"300°","d":"2016-08","v":144},{"s":"300°","d":"2016-09","v":149},{"s":"300°","d":"2016-10","v":153},{"s":"300°","d":"2016-11","v":163},{"s":"300°","d":"2016-12","v":178},
{"s":"300°","d":"2017-01","v":176},{"s":"300°","d":"2017-02","v":184},{"s":"300°","d":"2017-03","v":183},{"s":"300°","d":"2017-04","v":180},{"s":"300°","d":"2017-05","v":166},{"s":"300°","d":"2017-06","v":150},{"s":"300°","d":"2017-07","v":156},{"s":"300°","d":"2017-08","v":168},{"s":"300°","d":"2017-09","v":181},{"s":"300°","d":"2017-10","v":203},{"s":"300°","d":"2017-11","v":196},{"s":"300°","d":"2017-12","v":176},
{"s":"300°","d":"2018-01","v":189},{"s":"300°","d":"2018-02","v":216},{"s":"300°","d":"2018-03","v":229},{"s":"300°","d":"2018-04","v":241},{"s":"300°","d":"2018-05","v":241},{"s":"300°","d":"2018-06","v":260},{"s":"300°","d":"2018-07","v":244},{"s":"300°","d":"2018-08","v":253},{"s":"300°","d":"2018-09","v":246},{"s":"300°","d":"2018-10","v":256},{"s":"300°","d":"2018-11","v":236},{"s":"300°","d":"2018-12","v":240},
{"s":"300°","d":"2019-01","v":231},{"s":"300°","d":"2019-02","v":206},{"s":"300°","d":"2019-03","v":198},{"s":"300°","d":"2019-04","v":193},{"s":"300°","d":"2019-05","v":188},{"s":"300°","d":"2019-06","v":189},{"s":"300°","d":"2019-07","v":185},{"s":"300°","d":"2019-08","v":183},{"s":"300°","d":"2019-09","v":178},{"s":"300°","d":"2019-10","v":173},{"s":"300°","d":"2019-11","v":173},{"s":"300°","d":"2019-12","v":174},
{"s":"300°","d":"2020-01","v":174},{"s":"300°","d":"2020-02","v":186},{"s":"300°","d":"2020-03","v":196},{"s":"300°","d":"2020-04","v":211},{"s":"300°","d":"2020-05","v":221},{"s":"300°","d":"2020-06","v":234},{"s":"300°","d":"2020-07","v":221},{"s":"300°","d":"2020-08","v":201},{"s":"300°","d":"2020-09","v":211},{"s":"300°","d":"2020-10","v":213},{"s":"300°","d":"2020-11","v":214},{"s":"300°","d":"2020-12","v":216},
{"s":"300°","d":"2021-01","v":229},
{"s":"330°","d":"2012-01","v":9},{"s":"330°","d":"2012-02","v":9},{"s":"330°","d":"2012-03","v":13},{"s":"330°","d":"2012-04","v":1},{"s":"330°","d":"2012-05","v":-4},{"s":"330°","d":"2012-06","v":-4},{"s":"330°","d":"2012-07","v":1},{"s":"330°","d":"2012-08","v":4},{"s":"330°","d":"2012-09","v":8},{"s":"330°","d":"2012-10","v":13},{"s":"330°","d":"2012-11","v":12},{"s":"330°","d":"2012-12","v":11},
{"s":"330°","d":"2013-01","v":9},{"s":"330°","d":"2013-02","v":4},{"s":"330°","d":"2013-03","v":0},{"s":"330°","d":"2013-04","v":-2},{"s":"330°","d":"2013-05","v":6},{"s":"330°","d":"2013-06","v":6},{"s":"330°","d":"2013-07","v":6},{"s":"330°","d":"2013-08","v":16},{"s":"330°","d":"2013-09","v":15},{"s":"330°","d":"2013-10","v":13},{"s":"330°","d":"2013-11","v":11},{"s":"330°","d":"2013-12","v":9},
{"s":"330°","d":"2014-01","v":9},{"s":"330°","d":"2014-02","v":11},{"s":"330°","d":"2014-03","v":14},{"s":"330°","d":"2014-04","v":15},{"s":"330°","d":"2014-05","v":13},{"s":"330°","d":"2014-06","v":22},{"s":"330°","d":"2014-07","v":14},{"s":"330°","d":"2014-08","v":5},{"s":"330°","d":"2014-09","v":7},{"s":"330°","d":"2014-10","v":9},{"s":"330°","d":"2014-11","v":7},{"s":"330°","d":"2014-12","v":4},
{"s":"330°","d":"2015-01","v":11},{"s":"330°","d":"2015-02","v":12},{"s":"330°","d":"2015-03","v":9},{"s":"330°","d":"2015-04","v":6},{"s":"330°","d":"2015-05","v":3},{"s":"330°","d":"2015-06","v":3},{"s":"330°","d":"2015-07","v":3},{"s":"330°","d":"2015-08","v":3},{"s":"330°","d":"2015-09","v":4},{"s":"330°","d":"2015-10","v":6},{"s":"330°","d":"2015-11","v":9},{"s":"330°","d":"2015-12","v":12},
{"s":"330°","d":"2016-01","v":13},{"s":"330°","d":"2016-02","v":14},{"s":"330°","d":"2016-03","v":16},{"s":"330°","d":"2016-04","v":24},{"s":"330°","d":"2016-05","v":30},{"s":"330°","d":"2016-06","v":37},{"s":"330°","d":"2016-07","v":40},{"s":"330°","d":"2016-08","v":35},{"s":"330°","d":"2016-09","v":36},{"s":"330°","d":"2016-10","v":38},{"s":"330°","d":"2016-11","v":44},{"s":"330°","d":"2016-12","v":48},
{"s":"330°","d":"2017-01","v":47},{"s":"330°","d":"2017-02","v":48},{"s":"330°","d":"2017-03","v":46},{"s":"330°","d":"2017-04","v":37},{"s":"330°","d":"2017-05","v":21},{"s":"330°","d":"2017-06","v":14},{"s":"330°","d":"2017-07","v":16},{"s":"330°","d":"2017-08","v":14},{"s":"330°","d":"2017-09","v":18},{"s":"330°","d":"2017-10","v":21},{"s":"330°","d":"2017-11","v":23},{"s":"330°","d":"2017-12","v":28},
{"s":"330°","d":"2018-01","v":29},{"s":"330°","d":"2018-02","v":48},{"s":"330°","d":"2018-03","v":56},{"s":"330°","d":"2018-04","v":66},{"s":"330°","d":"2018-05","v":76},{"s":"330°","d":"2018-06","v":78},{"s":"330°","d":"2018-07","v":73},{"s":"330°","d":"2018-08","v":74},{"s":"330°","d":"2018-09","v":76},{"s":"330°","d":"2018-10","v":71},{"s":"330°","d":"2018-11","v":66},{"s":"330°","d":"2018-12","v":68},
{"s":"330°","d":"2019-01","v":63},{"s":"330°","d":"2019-02","v":49},{"s":"330°","d":"2019-03","v":51},{"s":"330°","d":"2019-04","v":48},{"s":"330°","d":"2019-05","v":46},{"s":"330°","d":"2019-06","v":39},{"s":"330°","d":"2019-07","v":33},{"s":"330°","d":"2019-08","v":26},{"s":"330°","d":"2019-09","v":16},{"s":"330°","d":"2019-10","v":13},{"s":"330°","d":"2019-11","v":11},{"s":"330°","d":"2019-12","v":16},
{"s":"330°","d":"2020-01","v":23},{"s":"330°","d":"2020-02","v":28},{"s":"330°","d":"2020-03","v":31},{"s":"330°","d":"2020-04","v":34},{"s":"330°","d":"2020-05","v":36},{"s":"330°","d":"2020-06","v":41},{"s":"330°","d":"2020-07","v":43},{"s":"330°","d":"2020-08","v":46},{"s":"330°","d":"2020-09","v":46},{"s":"330°","d":"2020-10","v":44},{"s":"330°","d":"2020-11","v":46},{"s":"330°","d":"2020-12","v":43},
{"s":"330°","d":"2021-01","v":46}
]},
"data":{"name":"dirs"},
"mark":{"type":"line","strokeWidth":2.7,"strokeJoin":"round"},
"encoding":{
"x":{"field":"d","type":"temporal",
"scale":{"type":"utc","domain":[{"year":2011,"month":11,"date":24,"utc":true},{"year":2021,"month":2,"date":8,"utc":true}]},
"axis":{"title":"Beginn einer Jahreszeitreihe","format":"%Y",
"values":[{"year":2012,"utc":true},{"year":2013,"utc":true},{"year":2014,"utc":true},{"year":2015,"utc":true},{"year":2016,"utc":true},{"year":2017,"utc":true},{"year":2018,"utc":true},{"year":2019,"utc":true},{"year":2020,"utc":true},{"year":2021,"utc":true}],
"labelFontSize":15,"labelColor":"#1a1a1a","labelPadding":8,"labelFlush":false,"labelOverlap":false,
"tickSize":8,"tickColor":"black","tickWidth":1.5,
"domainColor":"black","domainWidth":1.5,
"grid":true,"gridColor":"#b4b4b4","gridWidth":1.2,
"titleFontSize":14,"titleFontWeight":"normal","titleColor":"#1a1a1a","titlePadding":9}},
"y":{"field":"v","type":"quantitative",
"scale":{"domain":[-29,823],"nice":false,"zero":false},
"axis":{"title":"Relative Häufigkeit (a.u.)","labels":false,
"values":[-20,0,20,40,60,80,100,120,140,160,180,200,220,240,260,280,300,320,340,360,380,400,420,440,460,480,500,520,540,560,580,600,620,640,660,680,700,720,740,760,780,800,820],
"tickSize":{"condition":{"test":"datum.value % 80 === 0","value":9},"value":5},
"tickColor":"black","tickWidth":1.5,
"domainColor":"black","domainWidth":1.5,
"grid":true,
"gridColor":{"condition":{"test":"datum.value % 80 === 0","value":"#b4b4b4"},"value":"#dcdcdc"},
"gridWidth":1.2,
"titleFontSize":14,"titleFontWeight":"normal","titleColor":"#1a1a1a","titlePadding":8}},
"color":{"field":"s","type":"nominal",
"scale":{"domain":["0°","30°","60°","90°","120°","150°","180°","210°","240°","270°","300°","330°"],
"range":["#58a01e","#c88a0a","#cd0000","#27508c","#ff0000","#ffa500","#ffff00","#008b00","#0000ff","#551a8b","#ee82ee","#58a01e"]},
"legend":{"orient":"none","legendX":1089,"legendY":-271,"title":null,"symbolType":"stroke","symbolSize":484,"symbolStrokeWidth":2.5,"labelFontSize":14,"labelColor":"#1a1a1a","labelOffset":3,"clipHeight":16,"rowPadding":5.36,"padding":0}},
"strokeDash":{"field":"s","type":"nominal",
"scale":{"domain":["0°","30°","60°","90°","120°","150°","180°","210°","240°","270°","300°","330°"],
"range":[[1,0],[1,0],[1,0],[1,0],[1,0],[1,0],[1,0],[1,0],[1,0],[1,0],[1,0],[8,4]]},
"legend":{"orient":"none","legendX":1089,"legendY":-271,"title":null,"symbolType":"stroke","symbolSize":484,"symbolStrokeWidth":2.5,"labelFontSize":14,"labelColor":"#1a1a1a","labelOffset":3,"clipHeight":16,"rowPadding":5.36,"padding":0}}
}
}
